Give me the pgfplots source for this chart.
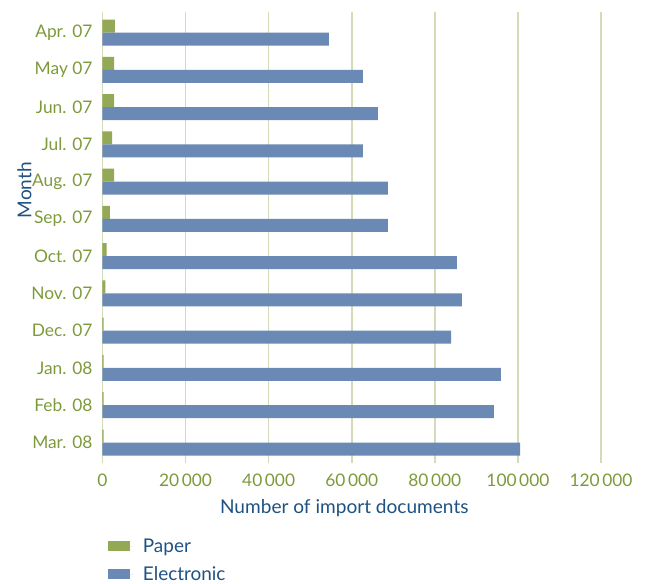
\documentclass[border=0pt]{standalone}
\usepackage{pgfplots}
\pgfplotsset{compat=1.18}
\usepackage{fontspec}
\setmainfont{Lato}
\definecolor{paperc}{HTML}{93A955}
\definecolor{elecc}{HTML}{6A89B4}
\definecolor{labgreen}{HTML}{7D9A3A}
\definecolor{titleblue}{HTML}{1F5283}
\definecolor{gridc}{HTML}{D3DCB8}
\begin{document}
\begin{tikzpicture}[x=0.75pt,y=0.75pt]
\useasboundingbox (-102.5,-120) rectangle (542.5,463);
\begin{axis}[
  at={(0,0)}, anchor=south west,
  scale only axis,
  width=373.9pt, height=338.25pt,
  xbar, bar width=9.75pt,
  xmin=0, xmax=120000,
  ymin=-0.55, ymax=11.55,
  y dir=reverse,
  ytick={0,...,11},
  yticklabels={Apr. 07,May 07,Jun. 07,Jul. 07,Aug. 07,Sep. 07,Oct. 07,Nov. 07,Dec. 07,Jan. 08,Feb. 08,Mar. 08},
  xtick={0,20000,40000,60000,80000,100000,120000},
  scaled x ticks=false,
  xticklabels={0,20\hspace{0.15em}000,40\hspace{0.15em}000,60\hspace{0.15em}000,80\hspace{0.15em}000,100\hspace{0.15em}000,120\hspace{0.15em}000},
  xmajorgrids, major grid style={gridc, line width=1.1pt},
  axis line style={draw=none},
  major tick length=0pt,
  tick label style={font=\fontsize{13}{15}\selectfont, text=labgreen},
  yticklabel style={xshift=-4pt},
  xticklabel style={yshift=-5pt},
  label style={font=\fontsize{14.3}{16}\selectfont, text=titleblue},
  xlabel={Number of import documents},
  ylabel={Month},
  xlabel style={at={(rel axis cs:0.485,0)}, anchor=center, yshift=-33.75pt},
  ylabel style={at={([xshift=-58.5pt]rel axis cs:0,0.605)}, anchor=center},
  legend style={draw=none, fill=none, at={(rel axis cs:0.011,-0.161)}, anchor=north west,
    font=\fontsize{14.2}{16}\selectfont, text=titleblue, row sep=5pt,
    legend cell align=left, inner sep=0pt,
    /tikz/every node/.append style={inner xsep=7pt}},
  legend image code/.code={\fill[#1] (0pt,-3.75pt) rectangle (16.5pt,3.75pt); \path (0pt,0pt) -- (19pt,0pt);},
  clip=false,
]
\addplot[draw=none, fill=paperc, bar shift=4.875pt] coordinates {
(3000,0) (2800,1) (2800,2) (2300,3) (2800,4) (1800,5) (1000,6) (700,7) (300,8) (300,9) (300,10) (300,11)};
\addlegendentry{Paper}
\addplot[draw=none, fill=elecc, bar shift=-4.875pt] coordinates {
(54500,0) (62700,1) (66300,2) (62700,3) (68700,4) (68700,5) (85300,6) (86500,7) (83900,8) (95900,9) (94200,10) (100500,11)};
\addlegendentry{Electronic}
\end{axis}
\end{tikzpicture}
\end{document}
